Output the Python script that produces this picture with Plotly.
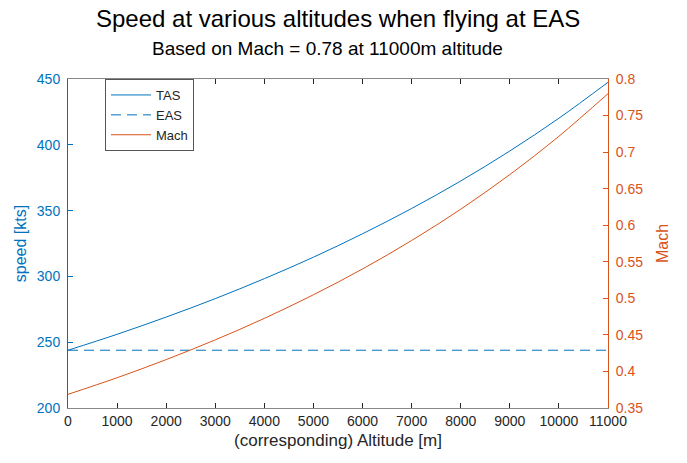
import plotly.graph_objects as go

altitude_m = [0, 1000, 2000, 3000, 4000, 5000, 6000, 7000, 8000, 9000, 10000, 11000]
tas_kts = [243.9, 256.0, 269.1, 283.1, 298.3, 314.6, 332.4, 351.6, 372.5, 395.3, 420.2, 447.5]
eas_kts = [243.9] * len(altitude_m)
mach = [0.3687, 0.3914, 0.4162, 0.4432, 0.4726, 0.5049, 0.5402, 0.5791, 0.6219, 0.6693, 0.7217, 0.7800]

x_ticks = list(range(0, 11001, 1000))
x_labels = [str(v) for v in x_ticks]
y_ticks = [200, 250, 300, 350, 400, 450]
y2_ticks = [0.35, 0.4, 0.45, 0.5, 0.55, 0.6, 0.65, 0.7, 0.75, 0.8]
y2_labels = ["0.35", "0.4", "0.45", "0.5", "0.55", "0.6", "0.65", "0.7", "0.75", "0.8"]

BLUE = "#0072BD"
ORANGE = "#D95319"
GRAY = "#262626"
FONT = "Liberation Sans, Arial, sans-serif"

W, H = 687, 463
L, R, T, B = 68, 79, 79, 55
pw, ph = W - L - R, H - T - B

def px_x(p):
    return (p - L) / pw

def px_y(p):
    return 1 + (T - p) / ph

fig = go.Figure()
fig.add_trace(go.Scatter(x=altitude_m, y=tas_kts, name="TAS", mode="lines",
                         line=dict(color=BLUE, width=1, shape="spline")))
fig.add_trace(go.Scatter(x=altitude_m, y=eas_kts, name="EAS", mode="lines",
                         line=dict(color=BLUE, width=1, dash="10px,6px")))
fig.add_trace(go.Scatter(x=altitude_m, y=mach, name="Mach", mode="lines", yaxis="y2",
                         line=dict(color=ORANGE, width=1, shape="spline")))

fig.update_layout(
    width=W, height=H,
    margin=dict(l=L, r=R, t=T, b=B, autoexpand=False),
    paper_bgcolor="white", plot_bgcolor="white",
    font=dict(family=FONT, size=14, color=GRAY),
    showlegend=True,
    legend=dict(x=px_x(105), y=1.0, xanchor="left", yanchor="top",
                bgcolor="white", bordercolor="#555555", borderwidth=1,
                font=dict(size=13, color=GRAY), tracegroupgap=0,
                itemwidth=40),
    xaxis=dict(range=[0, 11000], tickvals=x_ticks, ticktext=x_labels, ticks="inside", ticklen=5,
               tickcolor=GRAY, showline=True, linecolor="#888888", linewidth=1,
               mirror="ticks", showgrid=False, zeroline=False, automargin=False,
               tickfont=dict(size=14, color=GRAY),
               title=dict(text="(corresponding) Altitude [m]", font=dict(size=17, color=GRAY), standoff=6)),
    yaxis=dict(range=[200, 450], tickvals=y_ticks, ticks="inside", ticklen=5,
               tickcolor=BLUE, showline=True, linecolor=BLUE, linewidth=1,
               showgrid=False, zeroline=False, ticklabelstandoff=4, automargin=False,
               tickfont=dict(size=14, color=BLUE),
               title=dict(text="speed [kts]", font=dict(size=16, color=BLUE), standoff=6)),
    yaxis2=dict(range=[0.35, 0.8], tickvals=y2_ticks, ticktext=y2_labels, overlaying="y",
                side="right", ticks="inside", ticklen=5, tickcolor=ORANGE,
                showline=True, linecolor=ORANGE, linewidth=1, showgrid=False,
                zeroline=False, ticklabelstandoff=4, automargin=False,
                tickfont=dict(size=14, color=ORANGE),
                title=dict(text="Mach", font=dict(size=16, color=ORANGE), standoff=14)),
    annotations=[
        dict(text="Speed at various altitudes when flying at EAS", x=px_x(338), y=px_y(18),
             xref="paper", yref="paper", showarrow=False, xanchor="center", yanchor="middle",
             font=dict(size=24, color="black")),
        dict(text="Based on Mach = 0.78 at 11000m altitude", x=px_x(327), y=px_y(48),
             xref="paper", yref="paper", showarrow=False, xanchor="center", yanchor="middle",
             font=dict(size=19, color="black")),
    ],
)

fig.write_html("out.html",
               config={"displayModeBar": False},
               post_script="document.body.style.margin='0';document.body.style.padding='0';")
